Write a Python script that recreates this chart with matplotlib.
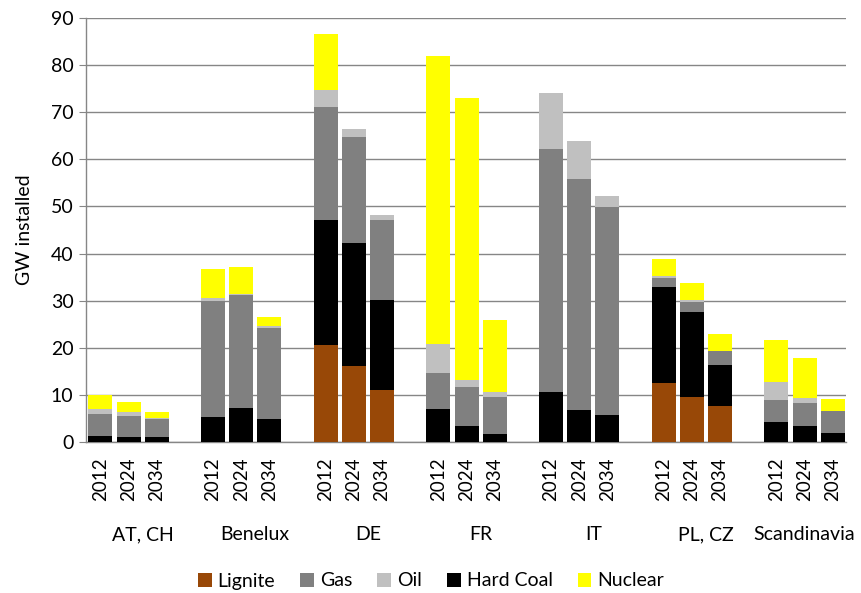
import numpy as np
import matplotlib
matplotlib.use("Agg")
import matplotlib.pyplot as plt
from matplotlib.patches import Patch
from matplotlib.transforms import blended_transform_factory

plt.rcParams['font.family'] = ['Lato', 'DejaVu Sans']

# categories
regions = ['AT, CH', 'Benelux', 'DE', 'FR', 'IT', 'PL, CZ', 'Scandinavia']
years = ['2012', '2024', '2034']

# GW per bar, order: AT 2012, AT 2024, AT 2034, Benelux 2012, ...
lignite = [0, 0, 0,
           0, 0, 0,
           20.6, 16.1, 11.0,
           0, 0, 0,
           0, 0, 0,
           12.5, 9.5, 7.7,
           0, 0, 0]
hard_coal = [1.3, 1.0, 1.1,
             5.3, 7.3, 4.9,
             26.5, 26.2, 19.1,
             6.9, 3.4, 1.6,
             10.6, 6.7, 5.7,
             20.4, 18.1, 8.6,
             4.3, 3.5, 2.0]
gas = [4.7, 4.5, 3.8,
       24.7, 24.0, 19.3,
       24.0, 22.4, 17.1,
       7.7, 8.3, 8.0,
       51.6, 49.2, 44.2,
       1.9, 2.2, 3.0,
       4.6, 4.7, 4.5]
oil = [0.9, 0.9, 0.3,
       0.6, 0.2, 0.4,
       3.6, 1.8, 0.9,
       6.3, 1.5, 1.1,
       11.8, 7.9, 2.3,
       0.4, 0.3, 0.1,
       3.8, 1.2, 0.1]
nuclear = [3.1, 2.0, 1.2,
           6.1, 5.6, 1.9,
           11.8, 0, 0,
           61.1, 59.8, 15.1,
           0, 0, 0,
           3.7, 3.6, 3.6,
           9.0, 8.5, 2.5]

colors = {'Lignite': '#984807', 'Gas': '#808080', 'Oil': '#C0C0C0',
          'Hard Coal': '#000000', 'Nuclear': '#FFFF00'}

# bar positions: 3 bars per region, one empty slot between regions
x = np.array([g * 4 + i for g in range(len(regions)) for i in range(3)])

fig = plt.figure(figsize=(8.62, 5.93), dpi=100)
ax = fig.add_axes([86 / 862, 1 - 442 / 593, (846 - 86) / 862, 424 / 593])

bottom = np.zeros(len(x))
stack = [('Lignite', lignite), ('Hard Coal', hard_coal), ('Gas', gas),
         ('Oil', oil), ('Nuclear', nuclear)]
for name, vals in stack:
    vals = np.array(vals)
    ax.bar(x, vals, bottom=bottom, width=0.85, color=colors[name], zorder=3)
    bottom += vals

fs = 14
ax.set_ylim(0, 90)
ax.set_yticks(range(0, 91, 10))
ax.set_xlim(-0.51, 26.47)
ax.yaxis.grid(True, color='#868686', linewidth=1, zorder=0)
for s in ['top', 'right']:
    ax.spines[s].set_visible(False)
for s in ['left', 'bottom']:
    ax.spines[s].set_color('#868686')
    ax.spines[s].set_linewidth(1)
ax.tick_params(axis='y', length=5, color='#868686', labelsize=fs, pad=4)
ax.set_xticks(x)
ax.set_xticklabels(years * len(regions), rotation=90, fontsize=13.5)
ax.tick_params(axis='x', length=0, pad=11)
ax.set_ylabel('GW installed', fontsize=fs, labelpad=13)

# region labels under the years
trans = blended_transform_factory(ax.transData, ax.transAxes)
for g, name in enumerate(regions):
    pos = g * 4 + 1.5
    if name == 'Scandinavia':
        pos = 24.98
    ax.text(pos, -0.219, name, transform=trans, ha='center', va='center',
            fontsize=fs)

order = ['Lignite', 'Gas', 'Oil', 'Hard Coal', 'Nuclear']
handles = [Patch(facecolor=colors[n], label=n) for n in order]
fig.legend(handles=handles, loc='center', bbox_to_anchor=(431 / 862, 1 - 581 / 593),
           ncol=5, frameon=False, fontsize=fs, handlelength=0.7,
           handleheight=0.7, handletextpad=0.3, columnspacing=1.3)

fig.savefig('out.png', dpi=100)
